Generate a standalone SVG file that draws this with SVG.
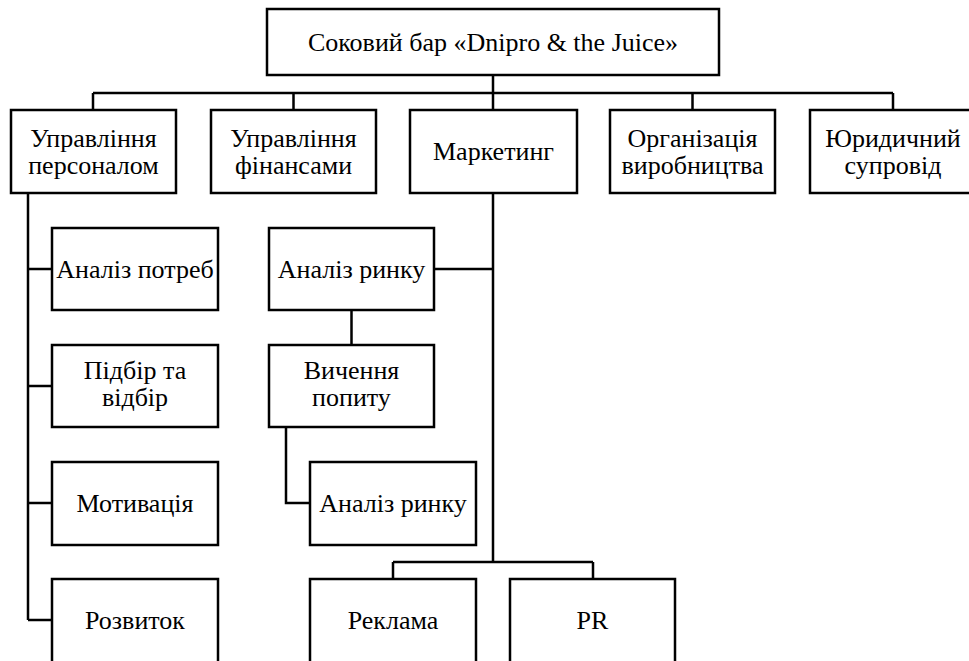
<svg xmlns="http://www.w3.org/2000/svg" width="969" height="661" viewBox="0 0 969 661">
  <style>
    .box { fill: #ffffff; stroke: #000000; stroke-width: 2.5; }
    .wire { fill: none; stroke: #000000; stroke-width: 2.5; stroke-linejoin: miter; }
    .lbl { font-family: 'Liberation Serif', 'Times New Roman', serif; font-size: 26px; fill: #000000; text-anchor: middle; }
  </style>
  <rect width="969" height="661" fill="#ffffff"/>

  <!-- connectors -->
  <g id="connectors">
    <!-- root to top-level departments -->
    <path class="wire" d="M493 75 V93 M93 93 H893 M93 93 V110 M293.5 93 V110 M493 93 V110 M692.5 93 V110 M893 93 V110"/>
    <!-- personnel management branch -->
    <path class="wire" d="M28 193 V620 M28 269 H52 M28 386 H52 M28 503 H52 M28 620 H52"/>
    <!-- marketing branch -->
    <path class="wire" d="M493 193 V562 M434 269 H493 M393 562 H593 M393 562 V579 M593 562 V579"/>
    <path class="wire" d="M351.5 310 V345 M286 427 V503 H310"/>
  </g>

  <!-- root -->
  <g id="root">
    <rect class="box" x="267" y="9" width="452" height="66"/>
    <text class="lbl" x="493" y="51">Соковий бар «Dnipro &amp; the Juice»</text>
  </g>

  <!-- top-level departments -->
  <g id="personnel">
    <rect class="box" x="11" y="110" width="165" height="83"/>
    <text class="lbl" x="93.5" y="147">Управління<tspan x="93.5" dy="27">персоналом</tspan></text>
  </g>
  <g id="finance">
    <rect class="box" x="211" y="110" width="165" height="83"/>
    <text class="lbl" x="293.5" y="147">Управління<tspan x="293.5" dy="27">фінансами</tspan></text>
  </g>
  <g id="marketing">
    <rect class="box" x="410" y="110" width="167" height="83"/>
    <text class="lbl" x="493.5" y="160">Маркетинг</text>
  </g>
  <g id="production">
    <rect class="box" x="610" y="110" width="165" height="83"/>
    <text class="lbl" x="692.5" y="147">Організація<tspan x="692.5" dy="27">виробництва</tspan></text>
  </g>
  <g id="legal">
    <rect class="box" x="810" y="110" width="166" height="83"/>
    <text class="lbl" x="893" y="147">Юридичний<tspan x="893" dy="27">супровід</tspan></text>
  </g>

  <!-- personnel sub-units -->
  <g id="needs-analysis">
    <rect class="box" x="52" y="228" width="166" height="82"/>
    <text class="lbl" x="135" y="278">Аналіз потреб</text>
  </g>
  <g id="recruitment">
    <rect class="box" x="52" y="345" width="166" height="82"/>
    <text class="lbl" x="135" y="379">Підбір та<tspan x="135" dy="27">відбір</tspan></text>
  </g>
  <g id="motivation">
    <rect class="box" x="52" y="462" width="166" height="83"/>
    <text class="lbl" x="135" y="512">Мотивація</text>
  </g>
  <g id="development">
    <rect class="box" x="52" y="579" width="166" height="90"/>
    <text class="lbl" x="135" y="629">Розвиток</text>
  </g>

  <!-- marketing sub-units -->
  <g id="market-analysis">
    <rect class="box" x="269" y="228" width="165" height="82"/>
    <text class="lbl" x="351.5" y="278">Аналіз ринку</text>
  </g>
  <g id="demand-study">
    <rect class="box" x="269" y="345" width="165" height="82"/>
    <text class="lbl" x="351.5" y="379">Вичення<tspan x="351.5" dy="27">попиту</tspan></text>
  </g>
  <g id="market-analysis-2">
    <rect class="box" x="310" y="462" width="166" height="83"/>
    <text class="lbl" x="393" y="512">Аналіз ринку</text>
  </g>
  <g id="advertising">
    <rect class="box" x="310" y="579" width="166" height="90"/>
    <text class="lbl" x="393" y="629">Реклама</text>
  </g>
  <g id="pr">
    <rect class="box" x="510" y="579" width="165" height="90"/>
    <text class="lbl" x="592.5" y="629">PR</text>
  </g>
</svg>
